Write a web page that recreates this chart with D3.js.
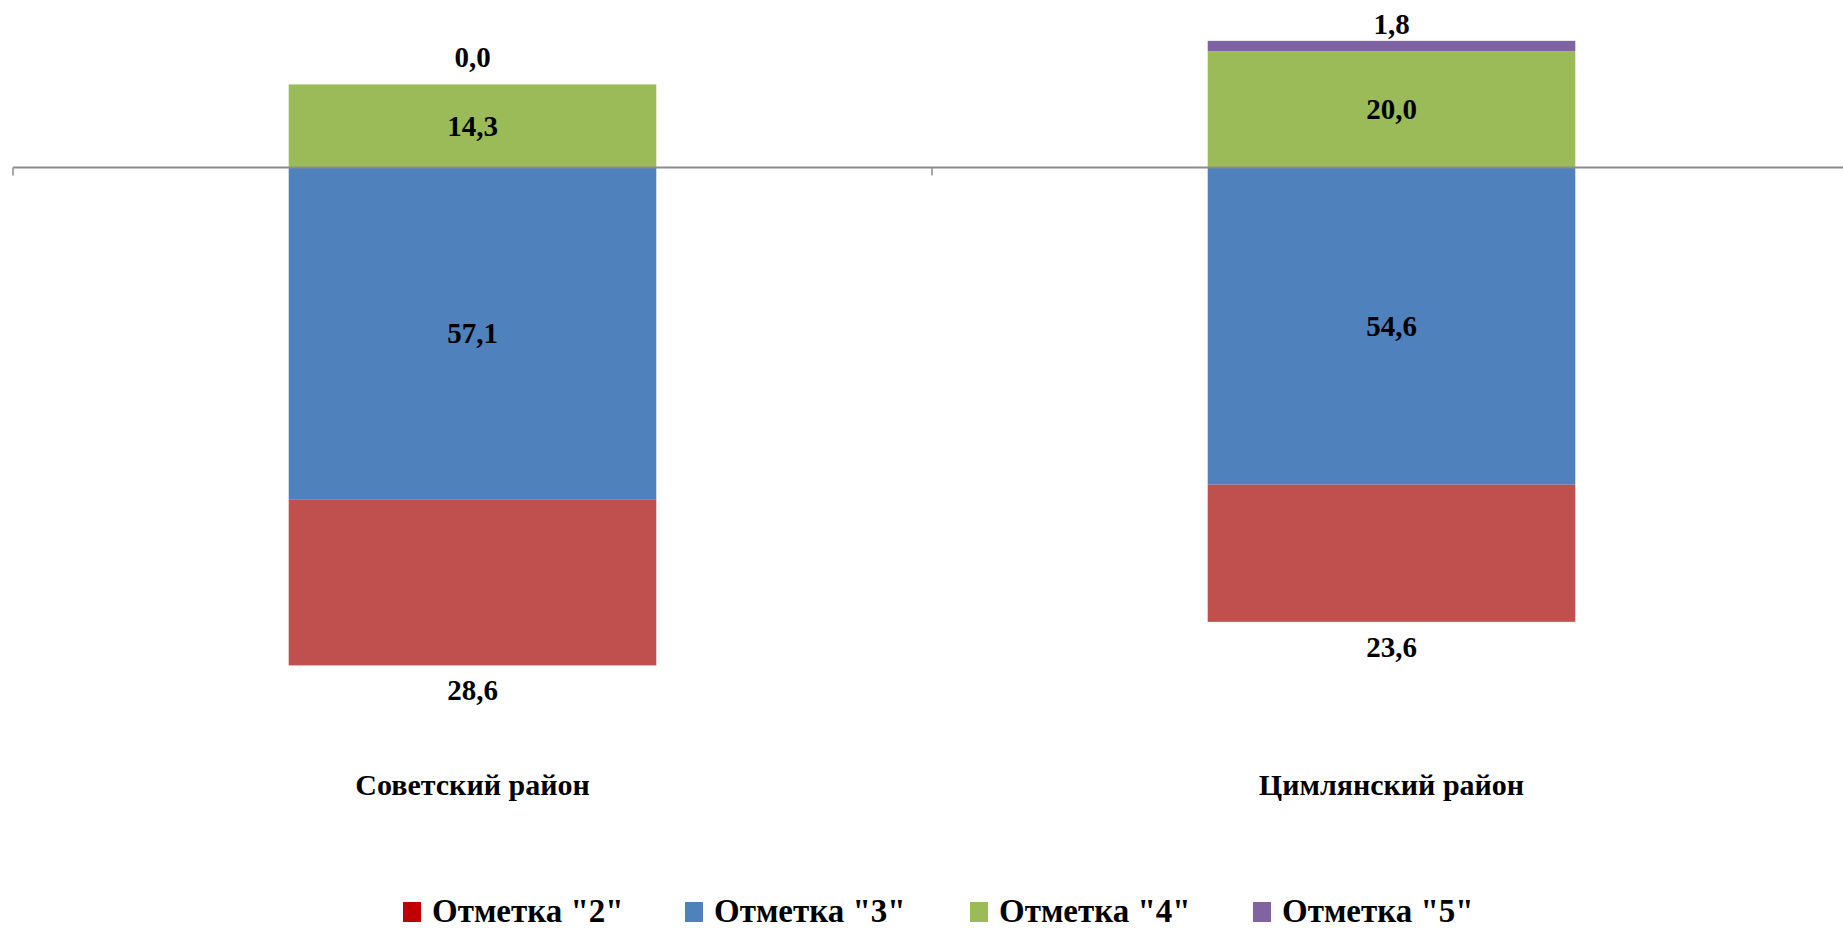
<!DOCTYPE html>
<html><head><meta charset="utf-8">
<script src="https://cdn.jsdelivr.net/npm/d3@7"></script>
<style>html,body{margin:0;padding:0;background:#fff;}svg{display:block;}</style>
</head><body>
<svg id="chart" width="1843" height="930"></svg>
<script>
const categories = ["Советский район", "Цимлянский район"];
const seriesNames = ['Отметка "2"', 'Отметка "3"', 'Отметка "4"', 'Отметка "5"'];
const mark2 = [28.6, 23.6];
const mark3 = [57.1, 54.6];
const mark4 = [14.3, 20.0];
const mark5 = [0.0, 1.8];
const barColors = ["#C0504D", "#4F81BD", "#9BBB59", "#8064A2"];
const legendColors = ["#C00000", "#4F81BD", "#9BBB59", "#8064A2"];

const svg = d3.select("#chart");
const font = "'Liberation Serif','Times New Roman',serif";

const x = d3.scaleBand().domain(categories).range([13, 1851]).paddingInner(0.6).paddingOuter(0.3);
const y = d3.scaleLinear().domain([-100, 30]).range([748.5, -6.8]);

const fmt = v => v.toFixed(1).replace(".", ",");

const segs = [];
categories.forEach((c, i) => {
  segs.push({c, s: 1, v: mark3[i], y0: 0, y1: -mark3[i]});
  segs.push({c, s: 0, v: mark2[i], y0: -mark3[i], y1: -mark3[i] - mark2[i]});
  segs.push({c, s: 2, v: mark4[i], y0: 0, y1: mark4[i]});
  segs.push({c, s: 3, v: mark5[i], y0: mark4[i], y1: mark4[i] + mark5[i]});
});

svg.append("g").selectAll("rect").data(segs).join("rect")
  .attr("x", d => x(d.c))
  .attr("width", x.bandwidth())
  .attr("y", d => Math.min(y(d.y0), y(d.y1)))
  .attr("height", d => Math.abs(y(d.y0) - y(d.y1)))
  .attr("fill", d => barColors[d.s]);

// axis
const ag = svg.append("g").attr("transform", `translate(0,${y(0)})`);
ag.append("line").attr("x1", 13).attr("x2", 1843).attr("y1", 0).attr("y2", 0)
  .attr("stroke", "#8C8C8C").attr("stroke-width", 2);
const boundaries = [13, 13 + x.step()];
ag.selectAll("line.tk").data(boundaries).join("line").attr("class", "tk")
  .attr("x1", d => d).attr("x2", d => d).attr("y1", 0).attr("y2", 8)
  .attr("stroke", "#8C8C8C").attr("stroke-width", 1.5);

// value labels
const lbl = svg.append("g").attr("font-family", font).attr("font-weight", "bold")
  .attr("font-size", 29).attr("text-anchor", "middle").attr("fill", "#000");
segs.forEach(d => {
  let cy;
  if (d.s === 0) cy = y(d.y1) + 25;
  else if (d.s === 3) cy = y(d.y0) - 27;
  else cy = (y(d.y0) + y(d.y1)) / 2;
  lbl.append("text").attr("x", x(d.c) + x.bandwidth() / 2).attr("y", cy + 10).text(fmt(d.v));
});

// category labels
svg.append("g").selectAll("text").data(categories).join("text")
  .attr("x", d => x(d) + x.bandwidth() / 2).attr("y", 795)
  .attr("text-anchor", "middle").attr("font-family", font).attr("font-weight", "bold")
  .attr("font-size", 30).text(d => d);

// legend
const legX = [403, 685, 970, 1253];
const lg = svg.append("g");
seriesNames.forEach((n, i) => {
  lg.append("rect").attr("x", legX[i]).attr("y", 902).attr("width", 18).attr("height", 20).attr("fill", legendColors[i]);
  lg.append("text").attr("x", legX[i] + 29).attr("y", 922).attr("font-family", font)
    .attr("font-weight", "bold").attr("font-size", 33).text(n);
});
</script>
</body></html>
